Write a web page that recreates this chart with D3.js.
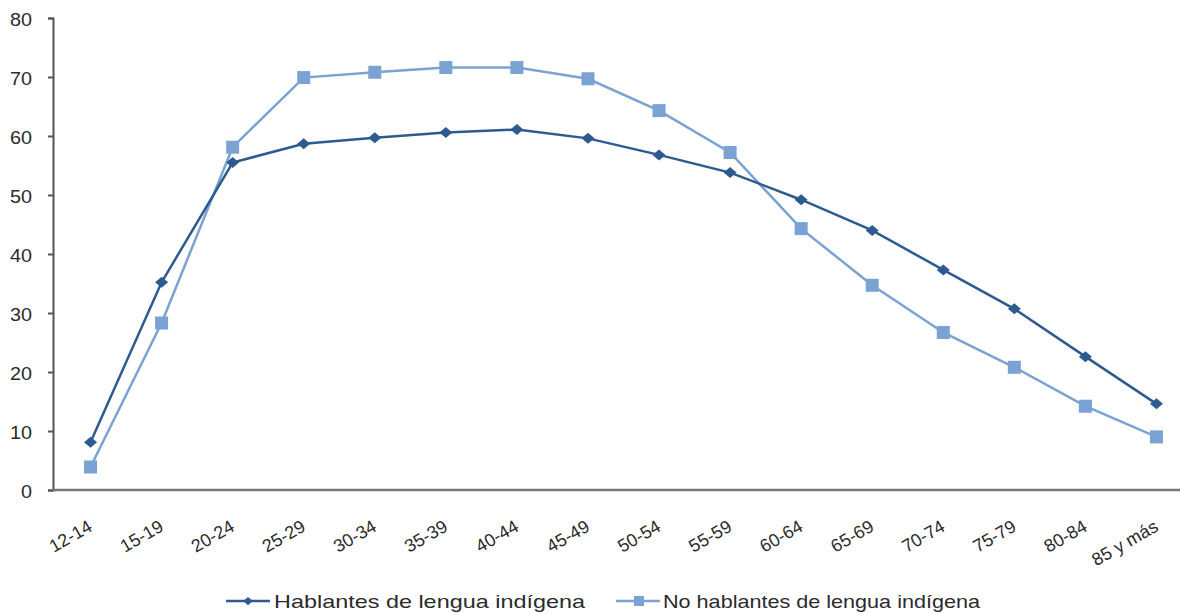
<!DOCTYPE html>
<html>
<head>
<meta charset="utf-8">
<script src="https://cdn.jsdelivr.net/npm/d3@7"></script>
<style>
  body { margin: 0; background: #fff; }
  svg { display: block; font-family: Arial, "Liberation Sans", sans-serif; }
</style>
</head>
<body>
<div id="root"></div>
<script>
const categories = ["12-14", "15-19", "20-24", "25-29", "30-34", "35-39", "40-44", "45-49",
  "50-54", "55-59", "60-64", "65-69", "70-74", "75-79", "80-84", "85 y más"];
const hablantes = [8.1, 35.2, 55.5, 58.7, 59.7, 60.6, 61.1, 59.6, 56.8, 53.8, 49.2, 44.0, 37.3, 30.7, 22.6, 14.6];
const noHablantes = [3.9, 28.3, 58.1, 69.9, 70.8, 71.6, 71.6, 69.7, 64.3, 57.2, 44.3, 34.7, 26.7, 20.8, 14.2, 9.0];
const yTicks = [0, 10, 20, 30, 40, 50, 60, 70, 80];
const seriesNames = ["Hablantes de lengua indígena", "No hablantes de lengua indígena"];

const width = 1180, height = 613;
const darkBlue = "#2d5a8f", lightBlue = "#7aa2d3";

const svg = d3.select("#root").append("svg")
  .attr("width", width)
  .attr("height", height);

const x = d3.scaleBand().domain(categories).range([55, 1192]);
const y = d3.scaleLinear().domain([0, 80]).range([490, 18]);
const cx = d => x(d) + x.bandwidth() / 2;

// eje y
const yAxis = svg.append("g")
  .attr("transform", "translate(53,0)")
  .call(d3.axisLeft(y).tickValues(yTicks).tickSize(5).tickPadding(14));
yAxis.select(".domain").attr("stroke", "#555").attr("stroke-width", 2);
yAxis.selectAll(".tick line").attr("stroke", "#555").attr("stroke-width", 2);
yAxis.selectAll(".tick text")
  .attr("fill", "#2b2b2b")
  .style("font-size", "18px")
  .attr("dy", "0.42em")
  .attr("transform", "scale(1.1,1)");

// eje x
svg.append("line")
  .attr("x1", 53).attr("x2", width)
  .attr("y1", y(0)).attr("y2", y(0))
  .attr("stroke", "#777").attr("stroke-width", 2.5);

svg.append("g").selectAll("text")
  .data(categories)
  .enter()
  .append("text")
  .attr("transform", d => "translate(" + (cx(d) + 3) + ",530) rotate(-30)")
  .attr("text-anchor", "end")
  .attr("fill", "#2b2b2b")
  .style("font-size", "18px")
  .text(d => d);

const line = d3.line()
  .x((d, i) => cx(categories[i]))
  .y(d => y(d));

// rombo ancho
const diamond = "M0,-5.5L6.5,0L0,5.5L-6.5,0Z";

// no hablantes (claro)
svg.append("path")
  .datum(noHablantes)
  .attr("fill", "none")
  .attr("stroke", lightBlue)
  .attr("stroke-width", 2.5)
  .attr("d", line);

// hablantes (oscuro)
svg.append("path")
  .datum(hablantes)
  .attr("fill", "none")
  .attr("stroke", darkBlue)
  .attr("stroke-width", 2.5)
  .attr("d", line);

svg.append("g").selectAll("rect")
  .data(noHablantes)
  .enter()
  .append("rect")
  .attr("x", (d, i) => cx(categories[i]) - 6.5)
  .attr("y", d => y(d) - 6.5)
  .attr("width", 13)
  .attr("height", 13)
  .attr("fill", lightBlue);

svg.append("g").selectAll("path")
  .data(hablantes)
  .enter()
  .append("path")
  .attr("transform", (d, i) => "translate(" + cx(categories[i]) + "," + y(d) + ")")
  .attr("d", diamond)
  .attr("fill", darkBlue);

// leyenda
const legend = [
  { name: seriesNames[0], color: darkBlue, x: 226, tx: 274, w: 311, marker: "diamond" },
  { name: seriesNames[1], color: lightBlue, x: 616, tx: 663, w: 317, marker: "square" }
];
const lg = svg.append("g").selectAll("g")
  .data(legend)
  .enter()
  .append("g");
lg.append("line")
  .attr("x1", d => d.x).attr("x2", d => d.x + 44)
  .attr("y1", 601).attr("y2", 601)
  .attr("stroke", d => d.color).attr("stroke-width", 2.5);
lg.filter(d => d.marker === "diamond").append("path")
  .attr("transform", d => "translate(" + (d.x + 22) + ",601) scale(0.75)")
  .attr("d", diamond)
  .attr("fill", d => d.color);
lg.filter(d => d.marker === "square").append("rect")
  .attr("x", d => d.x + 18).attr("y", 596)
  .attr("width", 10).attr("height", 10)
  .attr("fill", d => d.color);
lg.append("text")
  .attr("x", d => d.tx)
  .attr("y", 608)
  .attr("fill", "#2b2b2b")
  .style("font-size", "19px")
  .attr("textLength", d => d.w)
  .attr("lengthAdjust", "spacingAndGlyphs")
  .text(d => d.name);
</script>
</body>
</html>
